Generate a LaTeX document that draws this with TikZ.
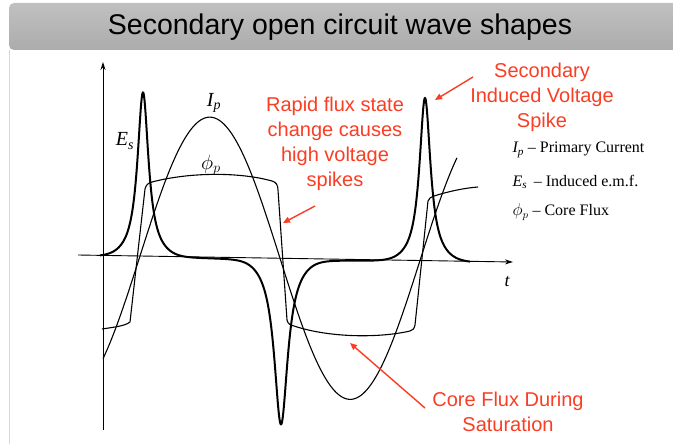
\documentclass[tikz,border=0pt]{standalone}
\usepackage{fontspec}
\setmainfont{Liberation Serif}
\newfontfamily\arialf{Liberation Sans}
\usetikzlibrary{arrows.meta}
\definecolor{redlab}{RGB}{250,62,36}
\definecolor{barlight}{RGB}{192,192,192}
\definecolor{bardark}{RGB}{172,172,172}
\definecolor{edgegray}{RGB}{215,215,215}
\begin{document}
\begin{tikzpicture}[x=1pt,y=-1pt,
  declare function={ax(\t)=255+7*(\t-78)/434;
                     lor(\t,\c,\w)=1/(1+((\t-\c)/\w)*((\t-\c)/\w));
                     env(\t,\c)=1/(1+(((\t-\c)/35)*((\t-\c)/35))*(((\t-\c)/35)*((\t-\c)/35)));
                     pulse(\t,\c,\w)=lor(\t,\c,\w)*env(\t,\c);},
  axisline/.style={line width=0.9pt,black},
  escurve/.style={line width=2pt,black,line join=round},
  thincurve/.style={line width=1.1pt,black,line join=round},
  redtext/.style={text=redlab,font=\arialf\fontsize{20}{25}\selectfont,align=center},
  redarrow/.style={draw=redlab,line width=1.4pt,-{Triangle[length=7pt,width=6pt]}},
  mathlab/.style={font=\fontsize{20}{22}\selectfont\itshape},
  legend/.style={font=\fontsize{16}{18}\selectfont,anchor=west}]
\useasboundingbox (0,0) rectangle (673,444);
% slide frame
\fill[white] (0,0) rectangle (673,444);
\draw[edgegray,line width=0.8pt] (9.5,50) -- (9.5,444);
\shade[top color=barlight,bottom color=bardark,rounded corners=5pt]
  (9,3) -- (680,3) -- (680,50) -- (9,50) -- cycle;
\node[font=\arialf\fontsize{28.5}{30}\selectfont] (title) at (340,27) {Secondary open circuit wave shapes};
% axes
\coordinate (ybot) at (103,430);
\coordinate (ytop) at (103,62);
\coordinate (xleft) at (78,255);
\coordinate (xright) at (513,262);
\draw[axisline,-{Stealth[length=8pt,width=5pt]}] (ybot) -- (ytop);
\draw[axisline,-{Stealth[length=8pt,width=5pt]}] (xleft) -- (xright);
% primary current
\draw[thincurve] plot[domain=103:457,samples=200] (\x,{ax(\x)-140*sin((\x-140)*1.285714)});
% core flux
\draw[thincurve] (102,329) .. controls (115,327) and (125,326) .. (130,322)
  -- (145,189) .. controls (146,185) and (148,183) .. (152,182)
  .. controls (190,172) and (240,172) .. (272,181)
  .. controls (276,182) and (278,185) .. (278,190)
  -- (287,320) .. controls (288,324) and (290,325) .. (294,326)
  .. controls (330,338) and (380,338) .. (410,331)
  .. controls (413,330) and (414,329) .. (415,325)
  -- (428,201) .. controls (429,198) and (431,197) .. (434,196)
  .. controls (450,191) and (465,188) .. (478,187);
% induced emf
\draw[escurve] plot[domain=100:470,samples=700]
  (\x,{ax(\x)+1.2-165*pulse(\x,143,6.7)+165*pulse(\x,281,8.2)-164*pulse(\x,425,6.7)});
% curve labels
\node[mathlab] (lblEs) at (125,141) {E\textsubscript{s}};
\node[mathlab] (lblIp) at (214,103) {I\textsubscript{p}};
\node[font=\fontsize{20}{22}\selectfont] (lblPhi) at (211,165) {$\phi_p$};
\node[font=\fontsize{18}{20}\selectfont\itshape] (lblt) at (507,282) {t};
% legend
\node[legend] (leg1) at (509,150) {{\itshape I\textsubscript{p}} – Primary Current};
\node[legend] (leg2) at (509,182) {{\itshape E\textsubscript{s}} \,– Induced e.m.f.};
\node[legend] (leg3) at (509,212) {$\phi_p$ – Core Flux};
% red annotations
\node[redtext] (note1) at (335,144) {Rapid flux state\\change causes\\high voltage\\spikes};
\node[redtext] (note2) at (542,97) {Secondary\\Induced Voltage\\Spike};
\node[redtext] (note3) at (508,412) {Core Flux During\\Saturation};
\coordinate (n1s) at (315,206);
\coordinate (n1e) at (283,223);
\coordinate (n2s) at (473,77);
\coordinate (n2e) at (435,100);
\coordinate (n3s) at (425,408);
\coordinate (n3e) at (350,343);
\draw[redarrow] (n1s) -- (n1e);
\draw[redarrow] (n2s) -- (n2e);
\draw[redarrow] (n3s) -- (n3e);
\end{tikzpicture}
\end{document}
